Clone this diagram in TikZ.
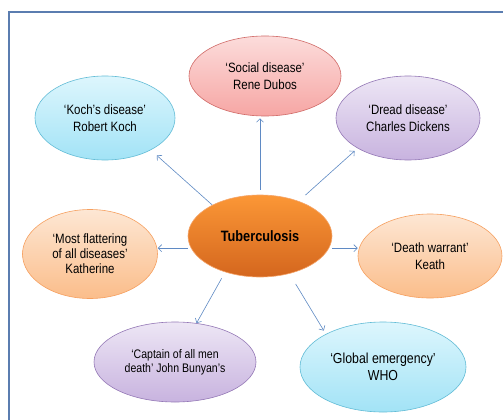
\documentclass[tikz,border=0pt]{standalone}
\usepackage{fontspec}
\setmainfont[FakeStretch=0.85]{Liberation Sans}
\usetikzlibrary{shapes.geometric,arrows.meta}
\definecolor{framec}{HTML}{5B7DB0}
\definecolor{arrowc}{HTML}{5F8AC4}
\definecolor{redT}{HTML}{FCDCDB}\definecolor{redB}{HTML}{F6A6A4}\definecolor{redD}{HTML}{D06A67}
\definecolor{cyanT}{HTML}{DDF6FD}\definecolor{cyanB}{HTML}{A2E3F6}\definecolor{cyanD}{HTML}{62BCD6}
\definecolor{purT}{HTML}{EDE6F5}\definecolor{purB}{HTML}{C8B3DF}\definecolor{purD}{HTML}{9478B6}
\definecolor{orT}{HTML}{FDE7D4}\definecolor{orB}{HTML}{FBBD8A}\definecolor{orD}{HTML}{F6A060}
\definecolor{tbT}{HTML}{FB9736}\definecolor{tbB}{HTML}{D4661E}\definecolor{tbD}{HTML}{F5A56A}
\begin{document}
\begin{tikzpicture}[x=1pt,y=-1pt,
  bub/.style={ellipse, line width=0.6pt, inner sep=0pt, align=center,
    font=\fontsize{13.5}{17}\selectfont},
  redbub/.style={bub, draw=redD, top color=redT, bottom color=redB},
  cyanbub/.style={bub, draw=cyanD, top color=cyanT, bottom color=cyanB},
  purbub/.style={bub, draw=purD, top color=purT, bottom color=purB},
  orbub/.style={bub, draw=orD, top color=orT, bottom color=orB},
  conn/.style={draw=arrowc, line width=0.6pt, -{Straight Barb[length=3.5pt,width=7pt]}}]
\clip (0,0) rectangle (503,420);
\fill[white] (0,0) rectangle (503,420);
\draw[framec, line width=1.5pt] (9,12) rectangle (540,460);

\node[bub, draw=tbD, top color=tbT, bottom color=tbB, minimum width=144pt, minimum height=82pt,
  font=\fontsize{15}{18}\bfseries\selectfont] (tb) at (260,236) {Tuberculosis};
\node[redbub, minimum width=152pt, minimum height=80pt] (soc) at (265,76) {‘Social disease’\\Rene Dubos};
\node[cyanbub, minimum width=140pt, minimum height=84pt] (koch) at (105,118) {‘Koch’s disease’\\Robert Koch};
\node[purbub, minimum width=144pt, minimum height=84pt] (dread) at (408,118) {‘Dread disease’\\Charles Dickens};
\node[orbub, minimum width=135pt, minimum height=89pt, font=\fontsize{13.5}{15}\selectfont] (mf) at (90,254) {‘Most flattering\\of all diseases’\\Katherine};
\node[orbub, minimum width=144pt, minimum height=84pt] (dw) at (430,256) {‘Death warrant’\\Keath};
\node[purbub, minimum width=162pt, minimum height=80pt, font=\fontsize{12.4}{14}\selectfont] (cap) at (175,362) {‘Captain of all men\\death’ John Bunyan’s};
\node[cyanbub, minimum width=166pt, minimum height=90pt, font=\fontsize{14.5}{17.5}\selectfont] (glob) at (383,367) {‘Global emergency’\\WHO};

\draw[conn, shorten <=5pt, shorten >=2pt] (tb.north) -- (tb.north |- soc.south);
\draw[conn, shorten >=8pt] (tb.147) -- (koch.-35);
\draw[conn, shorten <=9pt, shorten >=4pt] (tb.42) -- (dread.-149);
\draw[conn, shorten <=3pt] (tb.190) -- (tb.190 -| mf.east);
\draw[conn, shorten <=3pt] (tb.-10) -- (tb.-10 -| dw.west);
\draw[conn, shorten <=7pt] (tb.226) -- (cap.61);
\draw[conn, shorten <=12pt, shorten >=4pt] (tb.-52) -- (glob.150);
\end{tikzpicture}
\end{document}
